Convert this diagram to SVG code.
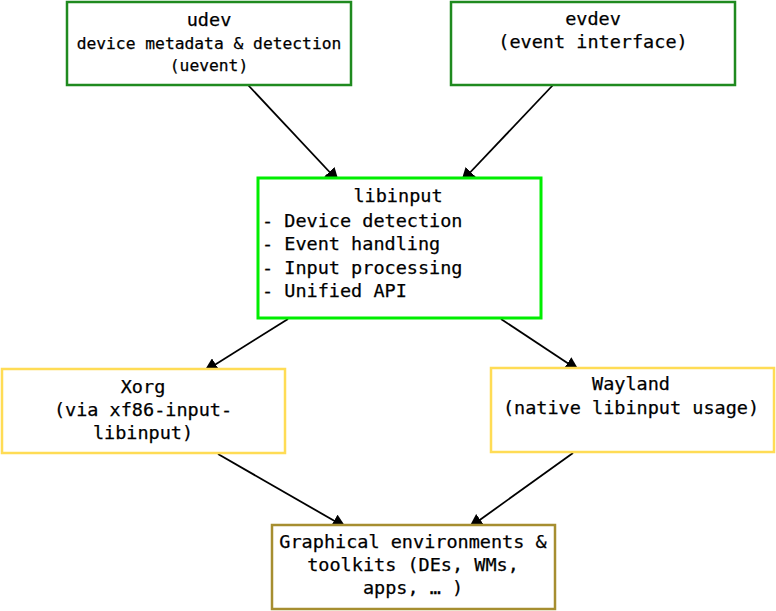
<svg xmlns="http://www.w3.org/2000/svg" width="776" height="611" viewBox="0 0 776 611">
<defs>
<marker id="arr" viewBox="0 0 10 10" refX="9" refY="5" markerWidth="14" markerHeight="14" markerUnits="userSpaceOnUse" orient="auto">
<path d="M0,0 L10,5 L0,10 z" fill="#000"/>
</marker>
<style>
text{font-family:"DejaVu Sans Mono","Liberation Mono",monospace;font-size:18.5px;fill:#000;stroke:#000;stroke-width:0.25}
.c{text-anchor:middle}
.s{font-size:16.3px}
rect{fill:#fff}
.g{stroke:#1f8a1f;stroke-width:2.5}
.l{stroke:#00ee00;stroke-width:3}
.y{stroke:#ffdc55;stroke-width:2.5}
.d{stroke:#a68e30;stroke-width:2.5}
.e{stroke:#000;stroke-width:1.8;fill:none;marker-end:url(#arr)}
</style>
</defs>
<rect x="0" y="0" width="776" height="611" fill="#fff"/>
<g id="connectors">
<line class="e" x1="248" y1="85" x2="338" y2="181"/>
<line class="e" x1="553" y1="85" x2="462" y2="181"/>
<line class="e" x1="288" y1="319" x2="205" y2="371"/>
<line class="e" x1="501" y1="319" x2="578" y2="370"/>
<line class="e" x1="218" y1="454" x2="345" y2="527"/>
<line class="e" x1="573" y1="453" x2="470" y2="527"/>
</g>
<g id="udev">
<rect class="g" x="67" y="2" width="284" height="83"/>
<text class="c" x="209" y="26">udev</text>
<text class="c s" x="209" y="49">device metadata &amp; detection</text>
<text class="c s" x="209" y="71">(uevent)</text>
</g>
<g id="evdev">
<rect class="g" x="451" y="2" width="284" height="83"/>
<text class="c" x="593" y="25">evdev</text>
<text class="c" x="593" y="48">(event interface)</text>
</g>
<g id="libinput">
<rect class="l" x="258" y="178" width="283" height="140"/>
<text class="c" x="398" y="202">libinput</text>
<text x="262" y="227">- Device detection</text>
<text x="262" y="250">- Event handling</text>
<text x="262" y="274">- Input processing</text>
<text x="262" y="297">- Unified API</text>
</g>
<g id="xorg">
<rect class="y" x="2" y="369" width="283" height="84"/>
<text class="c" x="143" y="393">Xorg</text>
<text class="c" x="143" y="416">(via xf86-input-</text>
<text class="c" x="143" y="439">libinput)</text>
</g>
<g id="wayland">
<rect class="y" x="491" y="368" width="283" height="84"/>
<text class="c" x="631" y="390">Wayland</text>
<text class="c" x="631" y="414">(native libinput usage)</text>
</g>
<g id="graphical">
<rect class="d" x="272" y="525" width="283" height="84"/>
<text class="c" x="413" y="548">Graphical environments &amp;</text>
<text class="c" x="413" y="571">toolkits (DEs, WMs,</text>
<text class="c" x="413" y="594">apps, … )</text>
</g>
</svg>
